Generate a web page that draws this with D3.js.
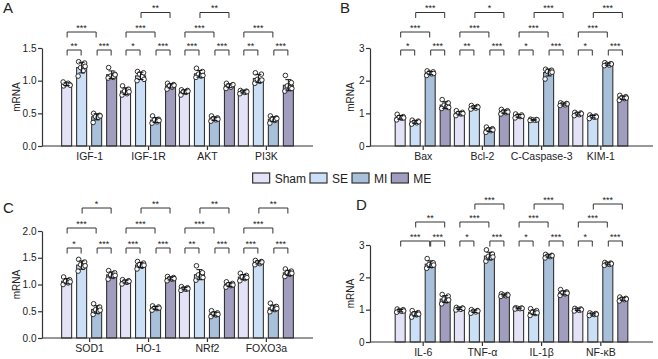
<!DOCTYPE html>
<html>
<head>
<title>mRNA panels</title>
<script type="text/javascript" src="https://d3js.org/d3.v7.min.js"></script>
<style>
  body { margin: 0; background: #fff; }
  svg text { font-family: "Liberation Sans", Arial, sans-serif; fill: #222; }
</style>
</head>
<body>
<svg id="chart" width="658" height="359"></svg>

<script type="text/javascript">

    // ---- data ----
    const groups = ["Sham", "SE", "MI", "ME"];

    const genesA = ["IGF-1", "IGF-1R", "AKT", "PI3K"];
    const genesB = ["Bax", "Bcl-2", "C-Caspase-3", "KIM-1"];
    const genesC = ["SOD1", "HO-1", "NRf2", "FOXO3a"];
    const genesD = ["IL-6", "TNF-α", "IL-1β", "NF-κB"];

    const yTicksA = [0, 0.5, 1.0, 1.5];
    const yTicksB = [0, 1, 2, 3];
    const yTicksC = [0, 0.5, 1.0, 1.5, 2.0];
    const yTicksD = [0, 1, 2, 3];

    // individual points (n = 6), per gene -> per group
    const pointsA = [
        [[0.92,0.94,0.95,0.96,0.98,0.93],[1.29,1.27,1.20,1.15,1.07,1.22],[0.50,0.47,0.45,0.44,0.36,0.46],[1.20,1.10,1.07,1.05,1.04,1.09]],
        [[0.92,0.87,0.84,0.80,0.78,0.83],[1.14,1.12,1.10,1.06,1.00,1.02],[0.46,0.41,0.40,0.37,0.35,0.39],[0.96,0.94,0.92,0.90,0.87,0.93]],
        [[0.86,0.85,0.83,0.82,0.78,0.84],[1.19,1.14,1.10,1.07,1.05,1.08],[0.46,0.43,0.42,0.40,0.38,0.41],[0.96,0.93,0.92,0.90,0.88,0.94]],
        [[0.85,0.84,0.83,0.82,0.80,0.83],[1.12,1.10,1.02,0.99,0.96,1.01],[0.46,0.43,0.41,0.39,0.35,0.42],[1.08,0.97,0.92,0.89,0.84,0.88]]
    ];
    const pointsB = [
        [[0.97,0.90,0.88,0.85,0.80,0.86],[0.79,0.76,0.73,0.71,0.67,0.74],[2.30,2.27,2.24,2.21,2.16,2.22],[1.42,1.32,1.25,1.20,1.15,1.18]],
        [[1.08,1.03,1.00,0.98,0.93,0.99],[1.24,1.21,1.18,1.16,1.13,1.19],[0.58,0.53,0.50,0.47,0.42,0.49],[1.12,1.08,1.05,1.02,0.98,1.04]],
        [[0.98,0.95,0.92,0.90,0.86,0.91],[0.82,0.81,0.80,0.79,0.78,0.80],[2.35,2.32,2.28,2.24,2.05,2.26],[1.32,1.30,1.28,1.26,1.24,1.29]],
        [[1.03,1.01,0.98,0.96,0.93,0.99],[0.95,0.92,0.90,0.88,0.84,0.89],[2.55,2.52,2.50,2.48,2.46,2.51],[1.55,1.51,1.48,1.45,1.40,1.47]]
    ];
    const pointsC = [
        [[1.14,1.09,1.06,1.03,1.00,1.05],[1.47,1.42,1.37,1.32,1.25,1.35],[0.64,0.58,0.53,0.49,0.44,0.52],[1.26,1.22,1.18,1.15,1.10,1.17]],
        [[1.09,1.07,1.05,1.04,1.01,1.06],[1.43,1.40,1.37,1.34,1.29,1.36],[0.60,0.58,0.56,0.55,0.52,0.56],[1.15,1.13,1.11,1.10,1.07,1.11]],
        [[0.96,0.94,0.92,0.91,0.89,0.92],[1.35,1.22,1.18,1.14,1.08,1.13],[0.51,0.47,0.45,0.43,0.40,0.44],[1.05,1.02,1.00,0.98,0.95,0.99]],
        [[1.21,1.17,1.14,1.11,1.07,1.13],[1.45,1.43,1.41,1.39,1.37,1.42],[0.65,0.59,0.56,0.53,0.49,0.55],[1.29,1.25,1.22,1.19,1.15,1.21]]
    ];
    const pointsD = [
        [[1.02,1.00,0.97,0.95,0.92,0.96],[0.97,0.91,0.87,0.84,0.77,0.86],[2.58,2.45,2.40,2.36,2.28,2.38],[1.47,1.42,1.33,1.27,1.18,1.30]],
        [[1.07,1.05,1.03,1.01,0.99,1.04],[1.00,0.97,0.95,0.93,0.89,0.96],[2.85,2.72,2.65,2.60,2.50,2.63],[1.49,1.47,1.45,1.43,1.41,1.45]],
        [[1.06,1.05,1.04,1.03,1.02,1.04],[1.03,0.97,0.92,0.88,0.82,0.90],[2.71,2.68,2.66,2.64,2.60,2.67],[1.62,1.55,1.52,1.49,1.44,1.51]],
        [[1.04,1.02,1.00,0.98,0.96,1.00],[0.90,0.88,0.86,0.85,0.82,0.86],[2.46,2.44,2.42,2.40,2.37,2.42],[1.39,1.35,1.33,1.31,1.27,1.33]]
    ];

    // significance: [gene index, group from, group to, bracket level, label]
    const sigA = [
        [0,0,1,0,"**"],[0,2,3,0,"***"],[0,0,2,1,"***"],
        [1,0,1,0,"*"],[1,2,3,0,"***"],[1,0,2,1,"***"],[1,1,3,2,"**"],
        [2,0,1,0,"***"],[2,2,3,0,"***"],[2,0,2,1,"***"],[2,1,3,2,"**"],
        [3,0,1,0,"**"],[3,2,3,0,"***"],[3,0,2,1,"***"]
    ];
    const sigB = [
        [0,0,1,0,"*"],[0,2,3,0,"***"],[0,0,2,1,"***"],[0,1,3,2,"***"],
        [1,0,1,0,"**"],[1,2,3,0,"***"],[1,0,2,1,"***"],[1,1,3,2,"*"],
        [2,0,1,0,"*"],[2,2,3,0,"***"],[2,0,2,1,"***"],[2,1,3,2,"***"],
        [3,0,1,0,"*"],[3,2,3,0,"***"],[3,0,2,1,"***"],[3,1,3,2,"***"]
    ];
    const sigC = [
        [0,0,1,0,"*"],[0,2,3,0,"***"],[0,0,2,1,"***"],[0,1,3,2,"*"],
        [1,0,1,0,"***"],[1,2,3,0,"***"],[1,0,2,1,"***"],[1,1,3,2,"**"],
        [2,0,1,0,"**"],[2,2,3,0,"***"],[2,0,2,1,"***"],[2,1,3,2,"**"],
        [3,0,1,0,"***"],[3,2,3,0,"***"],[3,0,2,1,"***"],[3,1,3,2,"**"]
    ];
    const sigD = [
        [0,0,2,0,"***"],[0,2,3,0,"***"],[0,1,3,1,"**"],
        [1,0,1,0,"*"],[1,2,3,0,"***"],[1,0,2,1,"***"],[1,1,3,2,"***"],
        [2,0,1,0,"*"],[2,2,3,0,"***"],[2,0,2,1,"***"],[2,1,3,2,"***"],
        [3,0,1,0,"*"],[3,2,3,0,"***"],[3,0,2,1,"***"],[3,1,3,2,"***"]
    ];

    // ---- styles / layout ----
    const colors = ["#E4E2F7", "#CBE0F7", "#A9C0DA", "#A09DBE"];
    const ink = "#333";
    const dotDx = [-3, 3, -1, 1.5, -3.5, 3.5];

    const svg = d3.select("#chart");

    const panels = [
        {letter:"A", lx:3,   ly:13,  genes:genesA, ticks:yTicksA, fmt:".1f", pts:pointsA, sig:sigA,
         x0:42,  x1:313, yBot:146, yTop:48,  pad:0.8,  titleX:19.5, levels:[50, 32, 12.5]},
        {letter:"B", lx:340, ly:13,  genes:genesB, ticks:yTicksB, fmt:"d",   pts:pointsB, sig:sigB,
         x0:370, x1:653, yBot:146, yTop:48,  pad:0.89, titleX:354,  levels:[50, 32, 12.5]},
        {letter:"C", lx:3,   ly:213, genes:genesC, ticks:yTicksC, fmt:".1f", pts:pointsC, sig:sigC,
         x0:42,  x1:313, yBot:338, yTop:231, pad:0.8,  titleX:19.5, levels:[248, 228, 208]},
        {letter:"D", lx:356, ly:210, genes:genesD, ticks:yTicksD, fmt:"d",   pts:pointsD, sig:sigD,
         x0:370, x1:653, yBot:342, yTop:245, pad:0.89, titleX:354,  levels:[241, 222, 204]}
    ];

    panels.forEach(p => drawPanel(p));

    function drawPanel(p) {
        const g = svg.append("g");

        const x = d3.scalePoint()
            .domain(p.genes)
            .range([p.x0, p.x1])
            .padding(p.pad);

        const sub = d3.scaleBand()
            .domain(groups)
            .range([-30, 30]);

        const y = d3.scaleLinear()
            .domain([0, d3.max(p.ticks)])
            .range([p.yBot, p.yTop]);

        const barW = 10;

        // flatten into one row per bar
        const rows = [];
        p.genes.forEach((gene, gi) => {
            groups.forEach((grp, k) => {
                const vals = p.pts[gi][k];
                rows.push({gene, grp, k, vals,
                    mean: d3.mean(vals), sd: d3.deviation(vals),
                    cx: x(gene) + sub(grp) + sub.bandwidth() / 2});
            });
        });

        g.selectAll(".bar")
            .data(rows)
            .enter()
            .append("rect")
            .attr("x", d => d.cx - barW / 2)
            .attr("width", barW)
            .attr("y", d => y(d.mean))
            .attr("height", d => p.yBot - y(d.mean))
            .attr("fill", d => colors[d.k])
            .attr("stroke", ink)
            .attr("stroke-width", 1.1);

        // dots
        rows.forEach(d => {
            g.selectAll(null)
                .data(d.vals)
                .enter()
                .append("circle")
                .attr("cx", (v, i) => d.cx + dotDx[i])
                .attr("cy", v => y(v))
                .attr("r", 2.3)
                .attr("fill", "#fff")
                .attr("stroke", "#1a1a1a")
                .attr("stroke-width", 0.9);
        });

        // error bars (mean +/- SD)
        const eb = g.selectAll(".err")
            .data(rows)
            .enter()
            .append("g")
            .attr("stroke", "#111")
            .attr("stroke-width", 1);
        eb.append("line")
            .attr("x1", d => d.cx).attr("x2", d => d.cx)
            .attr("y1", d => y(d.mean - d.sd)).attr("y2", d => y(d.mean + d.sd));
        eb.append("line")
            .attr("x1", d => d.cx - 3).attr("x2", d => d.cx + 3)
            .attr("y1", d => y(d.mean + d.sd)).attr("y2", d => y(d.mean + d.sd));
        eb.append("line")
            .attr("x1", d => d.cx - 3).attr("x2", d => d.cx + 3)
            .attr("y1", d => y(d.mean - d.sd)).attr("y2", d => y(d.mean - d.sd));

        // axes
        const yAxis = d3.axisLeft(y)
            .tickValues(p.ticks)
            .tickFormat(d3.format(p.fmt))
            .tickSize(4)
            .tickSizeOuter(0)
            .tickPadding(1.5);
        const xAxis = d3.axisBottom(x)
            .tickSize(4)
            .tickSizeOuter(0)
            .tickPadding(3);

        const ya = g.append("g")
            .attr("transform", "translate(" + p.x0 + ",0)")
            .call(yAxis);
        const xa = g.append("g")
            .attr("transform", "translate(0," + p.yBot + ")")
            .call(xAxis);
        xa.select(".domain").attr("d", "M" + p.x0 + ",0H" + p.x1);
        [ya, xa].forEach(a => {
            a.selectAll(".domain, line").attr("stroke", ink).attr("stroke-width", 1.2);
            a.selectAll("text").attr("fill", "#222")
                .attr("font-family", "Liberation Sans, Arial, sans-serif");
        });
        ya.selectAll("text").attr("font-size", "10px");
        xa.selectAll("text").attr("font-size", "10.5px");

        // y title
        g.append("text")
            .attr("transform", "translate(" + p.titleX + "," + ((p.yTop + p.yBot) / 2) + ") rotate(-90)")
            .attr("text-anchor", "middle")
            .attr("font-size", "10px")
            .text("mRNA");

        // panel letter
        g.append("text")
            .attr("x", p.lx)
            .attr("y", p.ly)
            .attr("font-size", "15px")
            .text(p.letter);

        // significance brackets
        p.sig.forEach(s => {
            const [gi, a, b, lev, lab] = s;
            const gene = p.genes[gi];
            const xa1 = x(gene) + sub(groups[a]) + sub.bandwidth() / 2 + 0.5;
            const xb1 = x(gene) + sub(groups[b]) + sub.bandwidth() / 2 - 0.5;
            const ly = p.levels[lev];
            g.append("path")
                .attr("d", "M" + xa1 + "," + (ly + 5.5) + "V" + ly + "H" + xb1 + "V" + (ly + 5.5))
                .attr("fill", "none")
                .attr("stroke", ink)
                .attr("stroke-width", 1);
            g.append("text")
                .attr("x", (xa1 + xb1) / 2)
                .attr("y", ly - 1.5)
                .attr("text-anchor", "middle")
                .attr("font-size", "9px")
                .text(lab);
        });
    }

    // legend
    const legend = svg.append("g");
    let lx = 0;
    groups.forEach((grp, k) => {
        legend.append("rect")
            .attr("x", lx).attr("y", 173)
            .attr("width", 17).attr("height", 10)
            .attr("fill", colors[k])
            .attr("stroke", ink)
            .attr("stroke-width", 1.2);
        const t = legend.append("text")
            .attr("x", lx + 22).attr("y", 182.5)
            .attr("font-size", "12px")
            .text(grp);
        lx += 22 + t.node().getComputedTextLength() + 4;
    });
    legend.attr("transform", "translate(" + (342 - (lx - 4) / 2) + ",0)");

</script>
</body>
</html>
